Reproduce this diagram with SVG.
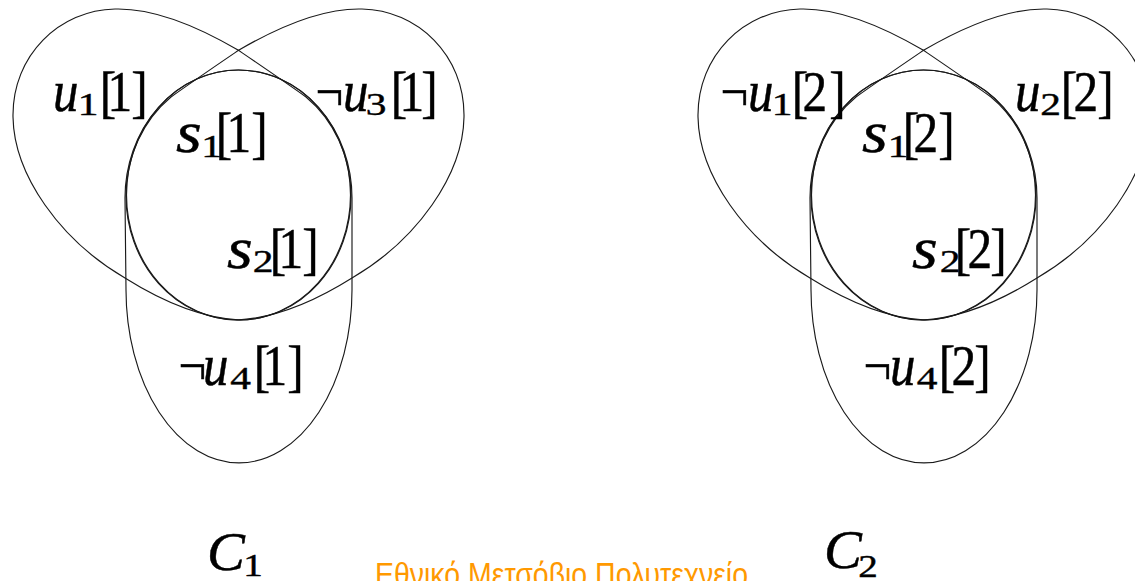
<svg xmlns="http://www.w3.org/2000/svg" width="1135" height="581" viewBox="0 0 1135 581">
<style>
.sh{fill:none;stroke:#1a1a1a;stroke-width:1.15}
.m{font-family:"Liberation Serif","Times New Roman",serif;font-size:58px;fill:#000;stroke:#000;stroke-width:0.5}
.u{font-family:"Liberation Serif","Times New Roman",serif;font-size:60px;font-style:italic;fill:#000;stroke:#000;stroke-width:0.5}
.s{font-family:"Liberation Serif","Times New Roman",serif;font-size:60px;font-style:italic;fill:#000;stroke:#000;stroke-width:0.5}
.sub{font-family:"Liberation Serif","Times New Roman",serif;font-size:36px;fill:#000;stroke:#000;stroke-width:0.45;text-anchor:middle}
.cap{font-family:"Liberation Serif","Times New Roman",serif;font-size:54px;font-style:italic;fill:#000;stroke:#000;stroke-width:0.5}
.csub{font-family:"Liberation Serif","Times New Roman",serif;font-size:34px;fill:#000;stroke:#000;stroke-width:0.45;text-anchor:middle}
.gr{font-family:"Liberation Sans",Arial,sans-serif;font-size:34px;fill:#ff9900}
</style>
<defs>
<g id="venn">
<ellipse class="sh" cx="238.5" cy="195" rx="112" ry="125"/>
<path class="sh" d="M125,198 A113.5 128 0 0 1 352,198 L352,290 A113 173 0 0 1 126,290 Z"/>
<path class="sh" d="M238,50 C190,22 150,8 115,9 C60,10 12,55 13,117 C14,175 60,240 125,278 C160,300 200,318 240,320 A112 124 0 0 0 351,196 A112 124 0 0 0 306,97 C285,82 260,65 238,50 Z"/>
<path class="sh" d="M239,50 C287,22 327,8 362,9 C417,10 465,55 464,117 C463,175 417,240 352,278 C317,300 277,318 237,320 A112 124 0 0 1 126,196 A112 124 0 0 1 171,97 C192,82 217,65 239,50 Z"/>
</g>
</defs>
<g id="C1-sets"><use href="#venn"/></g>
<g id="C2-sets" transform="translate(685,0)"><use href="#venn"/></g>

<g id="lbl-u1-1">
<text class="u" transform="translate(53,111) scale(0.85,1)">u</text>
<text class="sub" transform="translate(88,115) scale(1.15,0.88)">1</text>
<text class="m" transform="translate(104,111) scale(0.85,1)"><tspan x="-5">[</tspan><tspan x="4.2">1</tspan><tspan x="32.1">]</tspan></text>
</g>
<g id="lbl-nu3-1">
<text class="m" transform="translate(315.5,111) scale(0.85,1)">¬</text>
<text class="u" transform="translate(343,111) scale(0.85,1)">u</text>
<text class="sub" transform="translate(376,115) scale(1.15,0.88)">3</text>
<text class="m" transform="translate(395,111) scale(0.85,1)"><tspan x="-5">[</tspan><tspan x="5.4">1</tspan><tspan x="30.9">]</tspan></text>
</g>
<g id="lbl-s1-1">
<text class="s" transform="translate(176,152) scale(1.1,1)">s</text>
<text class="sub" transform="translate(211.5,157) scale(1.15,0.88)">1</text>
<text class="m" transform="translate(220,152) scale(0.85,1)"><tspan x="-5">[</tspan><tspan x="7.7">1</tspan><tspan x="36.8">]</tspan></text>
</g>
<g id="lbl-s2-1">
<text class="s" transform="translate(227,268) scale(1.1,1)">s</text>
<text class="sub" transform="translate(263,272) scale(1.15,0.88)">2</text>
<text class="m" transform="translate(274,268) scale(0.85,1)"><tspan x="-5">[</tspan><tspan x="5.4">1</tspan><tspan x="33.3">]</tspan></text>
</g>
<g id="lbl-nu4-1">
<text class="m" transform="translate(178.5,385) scale(0.85,1)">¬</text>
<text class="u" transform="translate(203,385) scale(0.85,1)">u</text>
<text class="sub" transform="translate(240.5,389) scale(1.15,0.88)">4</text>
<text class="m" transform="translate(258,385) scale(0.85,1)"><tspan x="-5">[</tspan><tspan x="5.4">1</tspan><tspan x="34.5">]</tspan></text>
</g>

<g id="lbl-nu1-2">
<text class="m" transform="translate(720.5,111) scale(0.85,1)">¬</text>
<text class="u" transform="translate(748,111) scale(0.85,1)">u</text>
<text class="sub" transform="translate(782,115) scale(1.15,0.88)">1</text>
<text class="m" transform="translate(796,111) scale(0.85,1)"><tspan x="-5">[</tspan><tspan x="7.7">2</tspan><tspan x="39.2">]</tspan></text>
</g>
<g id="lbl-u2-2">
<text class="u" transform="translate(1015,111) scale(0.85,1)">u</text>
<text class="sub" transform="translate(1050.5,115) scale(1.15,0.88)">2</text>
<text class="m" transform="translate(1065,111) scale(0.85,1)"><tspan x="-5">[</tspan><tspan x="10.1">2</tspan><tspan x="38">]</tspan></text>
</g>
<g id="lbl-s1-2">
<text class="s" transform="translate(862,152) scale(1.1,1)">s</text>
<text class="sub" transform="translate(898,157) scale(1.15,0.88)">1</text>
<text class="m" transform="translate(907,152) scale(0.85,1)"><tspan x="-5">[</tspan><tspan x="7.7">2</tspan><tspan x="36.8">]</tspan></text>
</g>
<g id="lbl-s2-2">
<text class="s" transform="translate(912,268) scale(1.1,1)">s</text>
<text class="sub" transform="translate(950,272) scale(1.15,0.88)">2</text>
<text class="m" transform="translate(959,268) scale(0.85,1)"><tspan x="-5">[</tspan><tspan x="10.1">2</tspan><tspan x="36.8">]</tspan></text>
</g>
<g id="lbl-nu4-2">
<text class="m" transform="translate(863.5,385) scale(0.85,1)">¬</text>
<text class="u" transform="translate(890,385) scale(0.85,1)">u</text>
<text class="sub" transform="translate(927,389) scale(1.15,0.88)">4</text>
<text class="m" transform="translate(943,385) scale(0.85,1)"><tspan x="-5">[</tspan><tspan x="10.1">2</tspan><tspan x="36.8">]</tspan></text>
</g>

<g id="lbl-C1">
<text class="cap" transform="translate(207,570) scale(1.05,1)">C</text>
<text class="csub" transform="translate(253,576) scale(1.15,0.95)">1</text>
</g>
<g id="lbl-C2">
<text class="cap" transform="translate(824,568) scale(1.05,1)">C</text>
<text class="csub" transform="translate(868,577) scale(1.15,0.95)">2</text>
</g>
<g id="lbl-ntua">
<text class="gr" x="375" y="586" textLength="373" lengthAdjust="spacingAndGlyphs">Εθνικό Μετσόβιο Πολυτεχνείο</text>
</g>
</svg>
